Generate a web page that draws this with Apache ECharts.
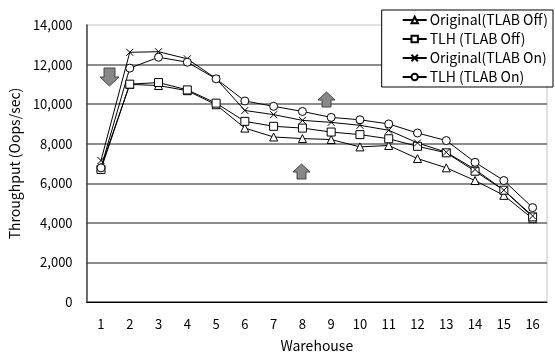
<!DOCTYPE html>
<html>
<head>
<meta charset="utf-8">
<style>
  html, body { margin: 0; padding: 0; background: #fff; }
  #chart { width: 555px; height: 358px; }
</style>
<script src="https://cdn.jsdelivr.net/npm/echarts@6/dist/echarts.min.js"></script>
</head>
<body>
<div id="chart"></div>
<script>
// Warehouse counts on the x axis
const warehouses = ['1','2','3','4','5','6','7','8','9','10','11','12','13','14','15','16'];

// Throughput (ops/sec) per configuration
const originalTlabOff = [6800, 11000, 10940, 10680, 9970, 8790, 8340, 8260, 8210, 7840, 7910, 7250, 6780, 6140, 5390, 4210];
const tlhTlabOff      = [6700, 11010, 11090, 10720, 10050, 9130, 8880, 8790, 8590, 8460, 8250, 7870, 7540, 6610, 5650, 4300];
const originalTlabOn  = [7150, 12620, 12650, 12290, 11290, 9680, 9470, 9180, 9080, 8930, 8680, 8040, 7570, 6700, 5650, 4350];
const tlhTlabOn       = [6780, 11820, 12370, 12120, 11280, 10160, 9890, 9630, 9330, 9210, 9000, 8540, 8160, 7060, 6140, 4770];

const seriesNames = ['Original(TLAB Off)', 'TLH (TLAB Off)', 'Original(TLAB On)', 'TLH (TLAB On)'];

const FONT = '"Noto Sans CJK JP", "DejaVu Sans", sans-serif';
const crossPath = 'path://M0,0L10,10M10,0L0,10';

function mkSeries(name, data, symbol, size) {
  return {
    name: name,
    type: 'line',
    data: data,
    symbol: symbol,
    symbolSize: size,
    showAllSymbol: true,
    lineStyle: { color: '#000', width: 1 },
    itemStyle: { color: symbol === crossPath ? 'none' : '#fff', borderColor: '#000', borderWidth: 1 },
    emphasis: { disabled: true },
    animation: false,
    z: 3
  };
}

const chart = echarts.init(document.getElementById('chart'), null, { renderer: 'canvas' });

chart.setOption({
  backgroundColor: '#fff',
  animation: false,
  textStyle: { fontFamily: FONT },
  grid: {
    left: 84, right: 8, top: 25, bottom: 55,
    show: true,
    borderColor: '#888',
    borderWidth: 1,
    borderType: [1, 1]
  },
  legend: {
    data: seriesNames,
    orient: 'vertical',
    right: 2,
    top: 10,
    padding: [3, 5, 3, 20],
    itemGap: 5,
    itemWidth: 24,
    itemHeight: 8,
    backgroundColor: '#fff',
    borderColor: '#000',
    borderWidth: 1,
    textStyle: { fontFamily: FONT, fontSize: 14, color: '#000', padding: [0, 0, 0, -2] }
  },
  xAxis: {
    type: 'category',
    data: warehouses,
    boundaryGap: true,
    name: 'Warehouse',
    nameLocation: 'middle',
    nameGap: 37,
    nameTextStyle: { fontFamily: FONT, fontSize: 14, color: '#000' },
    axisLine: { lineStyle: { color: '#000', width: 1 } },
    axisTick: { inside: true, length: 4, lineStyle: { color: '#000' } },
    axisLabel: { fontFamily: FONT, fontSize: 13, color: '#000', margin: 16 },
    splitLine: { show: false }
  },
  yAxis: {
    type: 'value',
    min: 0,
    max: 14000,
    interval: 2000,
    name: 'Throughput (Oops/sec)',
    nameLocation: 'middle',
    nameGap: 64,
    nameTextStyle: { fontFamily: FONT, fontSize: 14, color: '#000' },
    axisLine: { show: true, lineStyle: { color: '#444', width: 1.5 } },
    axisTick: { show: false },
    axisLabel: {
      fontFamily: FONT, fontSize: 13, color: '#000', margin: 14,
      formatter: v => v.toLocaleString('en-US')
    },
    splitLine: {
      show: true,
      lineStyle: {
        color: ['#666', '#666', '#666', '#666', '#666', '#666', '#666', 'transparent'],
        width: 1.5
      }
    }
  },
  graphic: [
    // Gray block arrows marking the annotated regions
    {
      type: 'polygon', z: 10,
      shape: { points: [[104, 68], [115, 68], [115, 77], [119, 77], [109.5, 86], [100, 77], [104, 77]] },
      style: { fill: '#888', stroke: '#444', lineWidth: 1 }
    },
    {
      type: 'polygon', z: 10,
      shape: { points: [[322, 107], [331, 107], [331, 100], [335, 100], [326.5, 92], [318, 100], [322, 100]] },
      style: { fill: '#888', stroke: '#444', lineWidth: 1 }
    },
    {
      type: 'polygon', z: 10,
      shape: { points: [[297, 179], [306, 179], [306, 172], [310, 172], [301.5, 164], [293, 172], [297, 172]] },
      style: { fill: '#888', stroke: '#444', lineWidth: 1 }
    }
  ],
  series: [
    mkSeries(seriesNames[0], originalTlabOff, 'triangle', 8),
    mkSeries(seriesNames[1], tlhTlabOff, 'rect', 8),
    mkSeries(seriesNames[2], originalTlabOn, crossPath, 7),
    mkSeries(seriesNames[3], tlhTlabOn, 'circle', 8)
  ]
});
</script>
</body>
</html>
